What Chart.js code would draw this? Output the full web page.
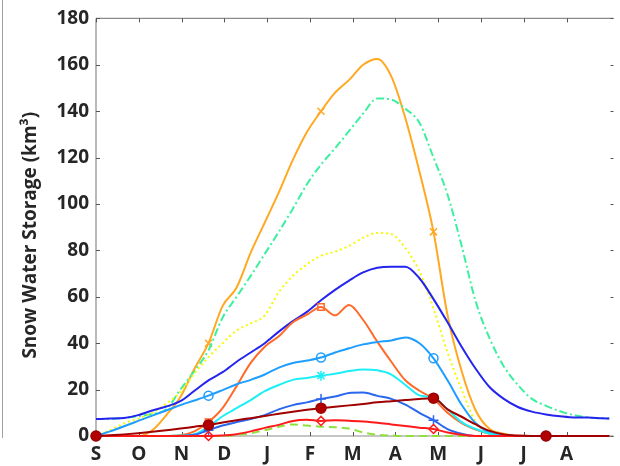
<!DOCTYPE html>
<html>
	<head>
		<meta charset="UTF-8">
		<title>Snow Water Storage</title>
		<script src="https://cdn.jsdelivr.net/npm/chart.js"></script>
		<style>
			* {padding: 0; margin: 0;}
			body {background: #fff;}
			#wrap {position: relative; width: 620px; height: 466px;}
			#edge {position: absolute; left: 2px; top: 0; width: 1px; height: 438px; background: #a0a0a0;}
		</style>
		<script>
			// days since 1 Sep, one value every 10 days (last one = end of year)
			let days = [0,10,20,30,40,50,60,70,80,90,100,110,120,130,140,150,160,170,180,190,200,210,220,230,240,250,260,270,280,290,300,310,320,330,340,350,360,365];
			let monthLabels = ['S','O','N','D','J','F','M','A','M','J','J','A'];
			let yTicks = [0,20,40,60,80,100,120,140,160,180];
			let markerDays = [0,80,160,240,320];
			let yTitle = 'Snow Water Storage (km³)';

			let orange    = [0,0,0,0,2.5,9,16.8,29,40,56,64,79,92,105,119,131,140,148,153.5,160,162.5,155,137,114,88,52,28,11,3,1,0,0,0,0,0,0,0,0];
			let green     = [7.3,7.4,7.8,8.5,9.5,11.5,20,28,37,51,60,69,78.5,88,98,108.5,117,124,131.5,139,145.5,145,141,135,120,104,82,58,42,30,22,16,13,10.7,9,8,7.6,7.5];
			let yellow    = [0,2.5,5.5,7.5,10,14,19,27,34,40,45.5,48.5,52,62,69,74,77.7,79.5,82,85.5,87.5,87,81,71,55,36,20,6,1,0,0,0,0,0,0,0,0,0];
			let blue      = [7.3,7.5,7.8,9,11,12.7,15,19.5,24,27.5,32,36,40,45,49.5,53.5,58.5,63,67,70.5,72.5,73,73,68,59,49,38.5,29,21,16,12.5,10.5,9.3,8.5,8,8,7.6,7.5];
			let orangeRed = [0,0,0,0,0,0,0.3,2,6,12,21.5,31.5,38.5,43,49,52.3,55.6,52,56.5,50,40.7,32,24,19.5,16,10,5.5,2.8,1,0.3,0,0,0,0,0,0,0,0];
			let skyBlue   = [0,2,4.2,6.5,8.8,11,13.3,15.3,17.4,19.8,22.3,24.2,26.5,29.5,31.5,32.5,33.8,36,37.8,39.5,40.5,41.2,42.5,40,33.5,24,13.5,5.5,1.5,0.2,0,0,0,0,0,0,0,0];
			let cyan      = [0,0,0,0,0,0,0.2,0.8,4,8.5,12,15.5,19.3,22,24.2,25,26,26.8,28,28.7,28.3,26.5,22,17.5,16.5,11.5,6,3,1,0,0,0,0,0,0,0,0,0];
			let midBlue   = [0,0,0,0,0,0,0,0.5,2.5,4.5,6,7.3,9,11.5,13.3,14.5,16,17,18.5,18.7,17.3,16,13.5,10,6.8,3,1,0,0,0,0,0,0,0,0,0,0,0];
			let darkRed   = [0,0.3,0.7,1.2,1.8,2.5,3.2,4,4.7,5.8,6.8,7.7,8.6,9.6,10.5,11.3,12,12.6,13.2,13.8,14.5,15,15.5,16,16.3,11.5,8.3,5,2.2,0.7,0.2,0,0,0,0,0,0,0];
			let red       = [0,0,0,0,0,0,0,0,0,0.2,0.8,2,3.5,4.8,6.5,7,6.5,6.8,6.6,6.2,5.7,5,4.3,3.6,3,1.5,0.5,0,0,0,0,0,0,0,0,0,0,0];
			let limeGreen = [0,0,0,0,0,0,0,0,0,0,0.5,1.2,2.5,4,5,4.5,4,3.8,3.2,1.5,0.5,0.2,0,0,0,0,0,0,0,0,0,0,0,0,0,0,0,0];

			let monthPos = monthLabels.map((m, i) => i * 365 / 12);

			function pts(arr){
				return arr.map((v, i) => ({x: days[i], y: v}));
			}
			function marks(r){
				return days.map(d => markerDays.includes(d) ? r : 0);
			}
			function line(data, color, style, r, extra){
				return Object.assign({
					data: pts(data),
					borderColor: color,
					backgroundColor: '#ffffff00',
					borderWidth: 2,
					pointStyle: style || 'circle',
					pointRadius: style ? marks(r) : 0,
					pointBorderColor: color,
					pointBorderWidth: 1.5,
					pointBackgroundColor: 'rgba(0,0,0,0)',
					cubicInterpolationMode: 'monotone',
					clip: false
				}, extra || {});
			}

			// frame + MATLAB style inward ticks + y title
			const boxPlugin = {
				id: 'box',
				beforeDatasetsDraw(chart){
					const c = chart.ctx, a = chart.chartArea;
					const xs = chart.scales.x, ys = chart.scales.y;
					c.save();
					c.strokeStyle = '#8c8c8c';
					c.lineWidth = 1.2;
					c.beginPath();
					c.moveTo(a.left, a.top); c.lineTo(a.right, a.top);
					c.moveTo(a.left, a.top); c.lineTo(a.left, a.bottom);
					c.moveTo(a.left, a.bottom); c.lineTo(a.right, a.bottom);
					c.stroke();
					c.strokeStyle = '#555';
					c.lineWidth = 1;
					c.beginPath();
					monthPos.forEach(v => {
						const x = Math.round(xs.getPixelForValue(v)) + 0.5;
						c.moveTo(x, a.bottom); c.lineTo(x, a.bottom - 4);
						c.moveTo(x, a.top); c.lineTo(x, a.top + 4);
					});
					yTicks.forEach(v => {
						const y = Math.round(ys.getPixelForValue(v)) + 0.5;
						c.moveTo(a.left, y); c.lineTo(a.left + 4, y);
						c.moveTo(a.right, y); c.lineTo(a.right - 3, y);
					});
					c.stroke();

					// axis title, a bit below the middle like the original
					c.translate(31, (a.top + a.bottom) / 2 + 8);
					c.rotate(-Math.PI / 2);
					c.fillStyle = '#262626';
					c.font = 'bold 19px "Open Sans"';
					c.textAlign = 'center';
					c.textBaseline = 'middle';
					c.fillText(yTitle, 0, 0);
					c.restore();
				}
			};

			window.onload = function(){
				const ctx = document.getElementById('myChart');
				new Chart(ctx, {
					type: 'line',
					data: {
						datasets: [
							line(darkRed, '#a00000', 'circle', 5, {pointBackgroundColor: '#b00000', pointBorderColor: '#a00000'}),
							line(red, '#ff1a1a', 'rectRot', 4.5),
							line(limeGreen, '#8fe03c', null, 0, {borderDash: [8, 5]}),
							line(midBlue, '#2a66ee', 'cross', 5),
							line(cyan, '#1eeef6', 'star', 5),
							line(skyBlue, '#1e9eff', 'circle', 4.5),
							line(orangeRed, '#ff6a2a', 'rect', 4.5),
							line(blue, '#2424ee', null, 0),
							line(yellow, '#f8f800', null, 0, {borderDash: [2, 3]}),
							line(green, '#3cf0a0', null, 0, {borderDash: [8, 3, 2, 3]}),
							line(orange, '#ffa820', 'crossRot', 5)
						]
					},
					options: {
						responsive: false,
						animation: false,
						devicePixelRatio: 1,
						layout: {padding: {top: 12, right: 0, left: 0, bottom: 0}},
						plugins: {legend: {display: false}, tooltip: {enabled: false}},
						scales: {
							x: {
								type: 'linear',
								min: 0,
								max: 368,
								afterBuildTicks: s => { s.ticks = monthPos.map(v => ({value: v})); },
								afterFit: s => { s.height = 30; },
								grid: {display: false, drawTicks: false},
								border: {display: false},
								ticks: {
									autoSkip: false,
									maxRotation: 0,
									padding: 7,
									color: '#262626',
									font: {family: 'Open Sans', size: 19, weight: 'bold'},
									callback: (v, i) => monthLabels[i]
								}
							},
							y: {
								min: 0,
								max: 180,
								afterFit: s => { s.width = 96; },
								grid: {display: false, drawTicks: false},
								border: {display: false},
								ticks: {
									stepSize: 20,
									padding: 7,
									color: '#262626',
									font: {family: 'Open Sans', size: 19, weight: 'bold'}
								}
							}
						}
					},
					plugins: [boxPlugin]
				});
			};
		</script>
	</head>
	<body>
		<div id="wrap">
			<div id="edge"></div>
			<canvas id="myChart" width="620" height="466"></canvas>
		</div>
	</body>
</html>
